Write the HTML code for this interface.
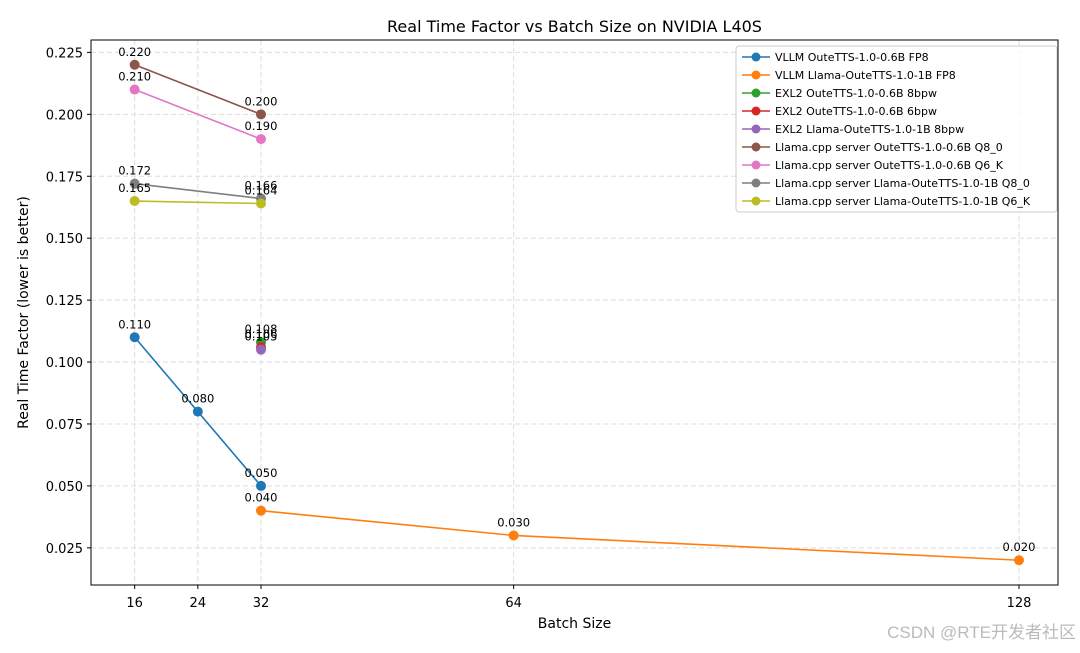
<!DOCTYPE html>
<html><head><meta charset="utf-8"><style>
body{margin:0;background:#fff;font-family:"Liberation Sans","DejaVu Sans",sans-serif}
svg text{font-family:"DejaVu Sans","Liberation Sans",sans-serif}
</style></head><body>
<svg id="c" width="1080" height="648"></svg>
<script>
const batchSizes=[16,24,32,64,128];
const seriesNames=["VLLM OuteTTS-1.0-0.6B FP8","VLLM Llama-OuteTTS-1.0-1B FP8","EXL2 OuteTTS-1.0-0.6B 8bpw","EXL2 OuteTTS-1.0-0.6B 6bpw","EXL2 Llama-OuteTTS-1.0-1B 8bpw","Llama.cpp server OuteTTS-1.0-0.6B Q8_0","Llama.cpp server OuteTTS-1.0-0.6B Q6_K","Llama.cpp server Llama-OuteTTS-1.0-1B Q8_0","Llama.cpp server Llama-OuteTTS-1.0-1B Q6_K"];
const colors=["#1f77b4","#ff7f0e","#2ca02c","#d62728","#9467bd","#8c564b","#e377c2","#7f7f7f","#bcbd22"];
const seriesX=[[16,24,32],[32,64,128],[32],[32],[32],[16,32],[16,32],[16,32],[16,32]];
const seriesY=[[0.110,0.080,0.050],[0.040,0.030,0.020],[0.108],[0.106],[0.105],[0.220,0.200],[0.210,0.190],[0.172,0.166],[0.165,0.164]];
const yTicks=[0.025,0.050,0.075,0.100,0.125,0.150,0.175,0.200,0.225];
const xTicks=[16,24,32,64,128];

const L=91,R=1058,T=40,B=585;
const xmin=10.47,xmax=132.94,ymin=0.01,ymax=0.23;
const X=v=>L+(v-xmin)/(xmax-xmin)*(R-L);
const Y=v=>B-(v-ymin)/(ymax-ymin)*(B-T);
const svg=document.getElementById('c');
const NS="http://www.w3.org/2000/svg";
function mk(t,a,p){const e=document.createElementNS(NS,t);for(const k in a)e.setAttribute(k,a[k]);(p||svg).appendChild(e);return e;}

let g=mk('g',{});


yTicks.forEach(v=>{mk('line',{x1:L,x2:R,y1:Y(v),y2:Y(v),stroke:'#ddd','stroke-dasharray':'5,3','stroke-width':1},g);
 const t=mk('text',{x:L-8,y:Y(v)+5,'text-anchor':'end','font-size':13,fill:'#000'});t.textContent=v.toFixed(3);
 
 mk('line',{x1:L-4,x2:L,y1:Y(v),y2:Y(v),stroke:'#000'});});
xTicks.forEach(v=>{mk('line',{y1:T,y2:B,x1:X(v),x2:X(v),stroke:'#ddd','stroke-dasharray':'5,3','stroke-width':1},g);
 const t=mk('text',{x:X(v),y:B+22,'text-anchor':'middle','font-size':13,fill:'#000'});t.textContent=v;
 
 mk('line',{x1:X(v),x2:X(v),y1:B,y2:B+4,stroke:'#000'});});

seriesNames.forEach((n,i)=>{
 const sg=mk('g',{});
 
 
 if(seriesX[i].length>1)mk('polyline',{points:seriesX[i].map((x,j)=>X(x)+','+Y(seriesY[i][j])).join(' '),fill:'none',stroke:colors[i],'stroke-width':1.6},sg);
 seriesX[i].forEach((x,j)=>{
  const c=mk('circle',{cx:X(x),cy:Y(seriesY[i][j]),r:5,fill:colors[i]},sg);
  
  
  const t=mk('text',{x:X(x),y:Y(seriesY[i][j])-9,'text-anchor':'middle','font-size':11.5,fill:'#000'},sg);
  t.textContent=seriesY[i][j].toFixed(3);
 });
});
const fr=mk('rect',{x:L,y:T,width:R-L,height:B-T,fill:'none',stroke:'#000','stroke-width':1});


let t=mk('text',{x:(L+R)/2,y:32,'text-anchor':'middle','font-size':16});t.textContent='Real Time Factor vs Batch Size on NVIDIA L40S';

t=mk('text',{x:(L+R)/2,y:628,'text-anchor':'middle','font-size':14});t.textContent='Batch Size';

t=mk('text',{x:0,y:0,'text-anchor':'middle','font-size':14,transform:'translate(28,'+((T+B)/2)+') rotate(-90)'});t.textContent='Real Time Factor (lower is better)';


const lg=mk('g',{});


mk('rect',{x:736,y:46,width:321,height:166,fill:'#fff','fill-opacity':0.85,stroke:'#ccc',rx:3},lg);
seriesNames.forEach((n,i)=>{
 const y=57+i*18;
 const e=mk('g',{},lg);
 
 
 mk('line',{x1:742,x2:770,y1:y,y2:y,stroke:colors[i],'stroke-width':1.6},e);
 mk('circle',{cx:756,cy:y,r:4.5,fill:colors[i]},e);
 const tt=mk('text',{x:775,y:y+4,'font-size':11},e);tt.textContent=n;
});
t=mk('text',{x:1076,y:638,'text-anchor':'end','font-size':17,fill:'#bbb'});t.textContent='CSDN @RTE开发者社区';
t.setAttribute('style','font-family:"Liberation Sans","Noto Sans CJK SC",sans-serif');

</script>
</body></html>
